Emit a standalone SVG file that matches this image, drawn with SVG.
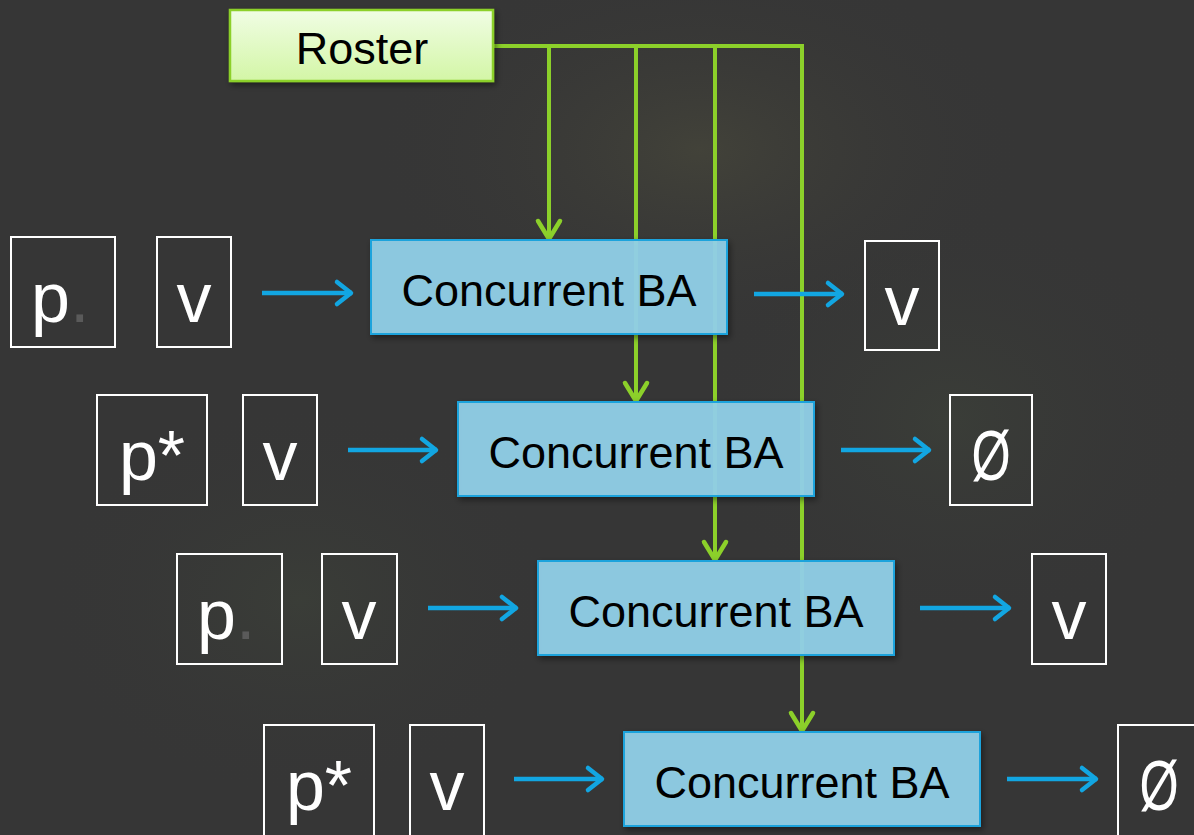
<svg xmlns="http://www.w3.org/2000/svg" width="1194" height="835" viewBox="0 0 1194 835">
<defs>
<linearGradient id="rosterFill" x1="0" y1="0" x2="0" y2="1">
<stop offset="0" stop-color="#f0fde4"/>
<stop offset="1" stop-color="#d3f6a6"/>
</linearGradient>
<radialGradient id="glow1" cx="0.5" cy="0.5" r="0.5">
<stop offset="0" stop-color="#45453a" stop-opacity="0.8"/>
<stop offset="1" stop-color="#363636" stop-opacity="0"/>
</radialGradient>
<radialGradient id="glow2" cx="0.5" cy="0.5" r="0.5">
<stop offset="0" stop-color="#3d4239" stop-opacity="0.6"/>
<stop offset="1" stop-color="#363636" stop-opacity="0"/>
</radialGradient>
<filter id="shadow" x="-10%" y="-10%" width="130%" height="140%">
<feDropShadow dx="2" dy="3" stdDeviation="3" flood-color="#000" flood-opacity="0.45"/>
</filter>
<marker id="greenHead" markerUnits="userSpaceOnUse" markerWidth="30" markerHeight="30" refX="0" refY="0" viewBox="-22 -15 26 30" orient="auto" overflow="visible">
<path d="M -19 -11 L -1 0 L -19 11" fill="none" stroke="#8cd02a" stroke-width="4.5" stroke-linecap="round" stroke-linejoin="round"/>
</marker>
<marker id="blueHead" markerUnits="userSpaceOnUse" markerWidth="30" markerHeight="30" refX="0" refY="0" viewBox="-22 -15 26 30" orient="auto" overflow="visible">
<path d="M -15 -11 L -1 0 L -15 11" fill="none" stroke="#12a6e2" stroke-width="4.5" stroke-linecap="round" stroke-linejoin="round"/>
</marker>
<style>
.green { fill: none; stroke: #8cd02a; stroke-width: 4; }
.blue { fill: none; stroke: #12a6e2; stroke-width: 4.5; }
.ba { fill: #92d1ea; fill-opacity: 0.93; stroke: #1ea3dc; stroke-width: 2; }
.ba-text { font-family: "Liberation Sans", Arial, sans-serif; font-size: 45px; fill: #000; text-anchor: middle; }
.val { fill: none; stroke: #ffffff; stroke-width: 2; }
.val-text { font-family: "Liberation Sans", Arial, sans-serif; font-size: 70px; fill: #ffffff; text-anchor: middle; }
.val-start { font-family: "Liberation Sans", Arial, sans-serif; font-size: 70px; fill: #ffffff; text-anchor: start; }
.dot { fill: #5a5a5a; }
.roster { fill: url(#rosterFill); stroke: #8cd02a; stroke-width: 2.5; }
.roster-text { font-family: "Liberation Sans", Arial, sans-serif; font-size: 45px; fill: #000; text-anchor: middle; }
</style>
</defs>

<!-- background -->
<rect x="0" y="0" width="1194" height="835" fill="#363636"/>
<ellipse cx="700" cy="150" rx="330" ry="200" fill="url(#glow1)"/>
<ellipse cx="950" cy="420" rx="260" ry="220" fill="url(#glow2)"/>
<ellipse cx="300" cy="600" rx="260" ry="200" fill="url(#glow2)"/>

<!-- connectors -->
<g id="connectors">
<path class="green" d="M 493 46 L 802 46"/>
<path class="green" d="M 549 46 L 549 240" marker-end="url(#greenHead)"/>
<path class="green" d="M 636 46 L 636 402" marker-end="url(#greenHead)"/>
<path class="green" d="M 715 46 L 715 561" marker-end="url(#greenHead)"/>
<path class="green" d="M 802 44 L 802 732" marker-end="url(#greenHead)"/>

<path class="blue" d="M 262 293 L 352 293" marker-end="url(#blueHead)"/>
<path class="blue" d="M 754 294 L 843 294" marker-end="url(#blueHead)"/>
<path class="blue" d="M 348 450 L 437 450" marker-end="url(#blueHead)"/>
<path class="blue" d="M 841 450 L 930 450" marker-end="url(#blueHead)"/>
<path class="blue" d="M 428 608 L 517 608" marker-end="url(#blueHead)"/>
<path class="blue" d="M 920 608 L 1010 608" marker-end="url(#blueHead)"/>
<path class="blue" d="M 514 779 L 603 779" marker-end="url(#blueHead)"/>
<path class="blue" d="M 1007 779 L 1097 779" marker-end="url(#blueHead)"/>
</g>

<!-- Roster -->
<g id="roster">
<rect class="roster" x="230" y="10" width="263" height="71" filter="url(#shadow)"/>
<text class="roster-text" x="362" y="64">Roster</text>
</g>

<!-- Concurrent BA nodes -->
<g id="ba1">
<rect class="ba" x="371" y="240" width="356" height="94" filter="url(#shadow)"/>
<text class="ba-text" x="549" y="306">Concurrent BA</text>
</g>
<g id="ba2">
<rect class="ba" x="458" y="402" width="356" height="94" filter="url(#shadow)"/>
<text class="ba-text" x="636" y="468">Concurrent BA</text>
</g>
<g id="ba3">
<rect class="ba" x="538" y="561" width="356" height="94" filter="url(#shadow)"/>
<text class="ba-text" x="716" y="627">Concurrent BA</text>
</g>
<g id="ba4">
<rect class="ba" x="624" y="732" width="356" height="94" filter="url(#shadow)"/>
<text class="ba-text" x="802" y="798">Concurrent BA</text>
</g>

<!-- Row 1 values -->
<g id="p1">
<rect class="val" x="11" y="237" width="104" height="110"/>
<text class="val-start" x="31" y="322">p<tspan class="dot">.</tspan></text>
</g>
<g id="v1">
<rect class="val" x="157" y="237" width="74" height="110"/>
<text class="val-text" x="194" y="322">v</text>
</g>
<g id="out1">
<rect class="val" x="865" y="241" width="74" height="109"/>
<text class="val-text" x="902" y="325">v</text>
</g>

<!-- Row 2 values -->
<g id="p2">
<rect class="val" x="97" y="395" width="110" height="110"/>
<text class="val-text" x="152" y="480">p*</text>
</g>
<g id="v2">
<rect class="val" x="243" y="395" width="74" height="110"/>
<text class="val-text" x="280" y="480">v</text>
</g>
<g id="out2">
<rect class="val" x="950" y="395" width="82" height="110"/>
<text class="val-text" x="0" y="0" transform="translate(991 480) scale(0.72 1)">Ø</text>
</g>

<!-- Row 3 values -->
<g id="p3">
<rect class="val" x="177" y="554" width="105" height="110"/>
<text class="val-start" x="197" y="639">p<tspan class="dot">.</tspan></text>
</g>
<g id="v3">
<rect class="val" x="322" y="554" width="75" height="110"/>
<text class="val-text" x="359" y="639">v</text>
</g>
<g id="out3">
<rect class="val" x="1032" y="554" width="74" height="110"/>
<text class="val-text" x="1069" y="639">v</text>
</g>

<!-- Row 4 values -->
<g id="p4">
<rect class="val" x="264" y="725" width="110" height="112"/>
<text class="val-text" x="319" y="810">p*</text>
</g>
<g id="v4">
<rect class="val" x="410" y="725" width="74" height="112"/>
<text class="val-text" x="447" y="810">v</text>
</g>
<g id="out4">
<rect class="val" x="1118" y="725" width="82" height="112"/>
<text class="val-text" x="0" y="0" transform="translate(1159 810) scale(0.72 1)">Ø</text>
</g>
</svg>
